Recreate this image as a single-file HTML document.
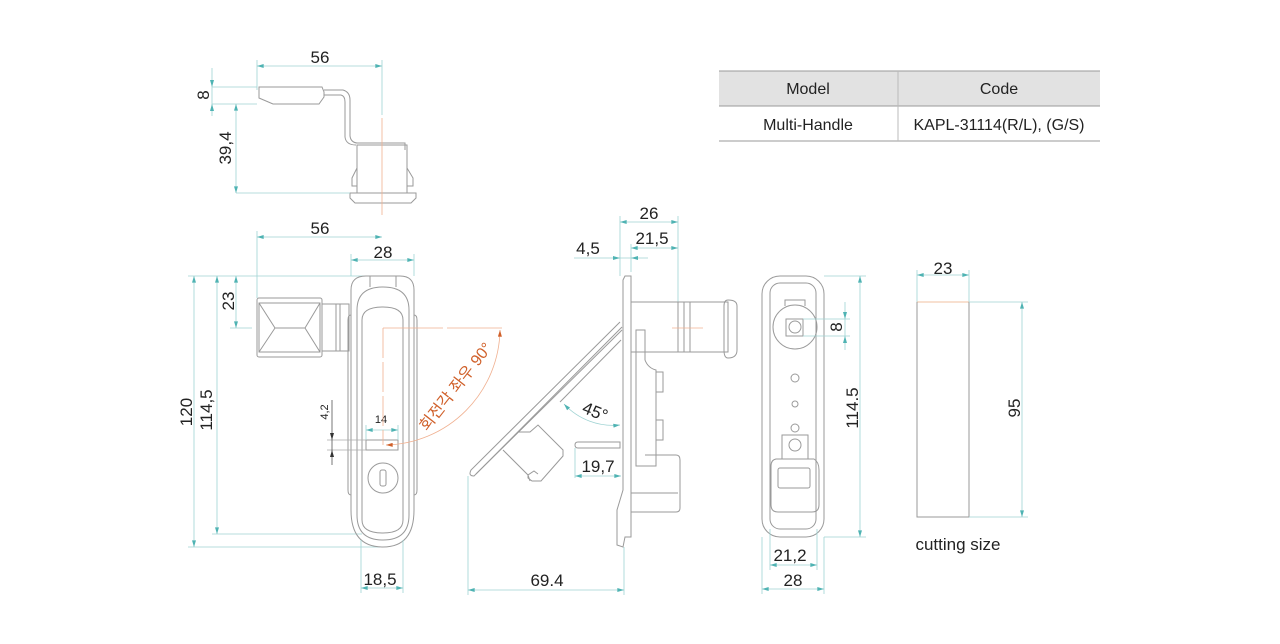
<!DOCTYPE html>
<html><head><meta charset="utf-8"><style>
html,body{margin:0;padding:0;background:#fff;width:1280px;height:644px;overflow:hidden}
svg{display:block}
text{font-family:"Liberation Sans","Noto Sans CJK KR",sans-serif;fill:#222}
.l{fill:none;stroke:#9a9a9a;stroke-width:1}
.d{stroke:#9fd3d3;stroke-width:0.8;fill:none}
.da{stroke:#9fd3d3;stroke-width:0.8;fill:none;marker-start:url(#a);marker-end:url(#a)}
.o{stroke:#f0b090;stroke-width:0.8;fill:none}
</style></head><body>
<svg width="1280" height="644" viewBox="0 0 1280 644">
<defs>
<marker id="a" viewBox="0 0 10 6" refX="10" refY="3" markerWidth="10" markerHeight="5" orient="auto-start-reverse"><path d="M0,0L10,3L0,6z" fill="#4fb3b3"/></marker>
<marker id="ao" viewBox="0 0 10 6" refX="10" refY="3" markerWidth="9" markerHeight="5" orient="auto-start-reverse"><path d="M0,0L10,3L0,6z" fill="#d0602a"/></marker>
</defs>

<!-- table -->
<rect x="719" y="71" width="381" height="35" fill="#e2e2e2"/>
<line x1="719" y1="71" x2="1100" y2="71" stroke="#999"/>
<line x1="719" y1="106" x2="1100" y2="106" stroke="#999"/>
<line x1="719" y1="141" x2="1100" y2="141" stroke="#999"/>
<line x1="898" y1="71" x2="898" y2="141" stroke="#bbb"/>
<text x="808" y="94" font-size="16" text-anchor="middle">Model</text>
<text x="999" y="94" font-size="16" text-anchor="middle">Code</text>
<text x="808" y="130" font-size="16" text-anchor="middle">Multi-Handle</text>
<text x="999" y="130" font-size="16" text-anchor="middle">KAPL-31114(R/L), (G/S)</text>

<!-- TOP VIEW -->
<line class="d" x1="257" y1="60" x2="257" y2="90"/><line class="d" x1="382" y1="60" x2="382" y2="115"/>
<line class="da" x1="257" y1="66" x2="382" y2="66"/>
<text x="320" y="63" font-size="17" text-anchor="middle">56</text>
<path class="l" d="M259,87H322L324,92V97L319,104H273L259,98Z"/>
<path class="l" d="M324,90H343Q350,92 350,100V136Q351,143 358,143H405V150"/>
<path class="l" d="M324,95H341Q345,96 345,102V137Q346,145 356,145"/>
<rect class="l" x="357" y="145" width="50" height="48"/>
<path class="l" d="M357,168L352,178V186H357M407,168L413,178V186H407"/>
<path class="l" d="M350,193H416V198L411,203H355L350,198Z"/>
<line class="o" x1="382" y1="118" x2="382" y2="215"/>
<line class="d" x1="212" y1="87" x2="257" y2="87"/><line class="d" x1="212" y1="104" x2="257" y2="104"/>
<line class="d" x1="236" y1="193" x2="350" y2="193"/>
<line class="d" x1="212" y1="68" x2="212" y2="116"/>
<path d="M210,80L212,87L214,80z M210,111L212,104L214,111z" fill="#4fb3b3"/>
<line class="da" x1="236" y1="104" x2="236" y2="193"/>
<text transform="translate(209,95) rotate(-90)" font-size="17" text-anchor="middle">8</text>
<text transform="translate(231,148) rotate(-90)" font-size="17" text-anchor="middle">39,4</text>

<!-- FRONT VIEW -->
<line class="d" x1="257" y1="231" x2="257" y2="298"/>
<line class="da" x1="257" y1="237" x2="382" y2="237"/>
<text x="320" y="234" font-size="17" text-anchor="middle">56</text>
<line class="d" x1="351" y1="254" x2="351" y2="276"/><line class="d" x1="414" y1="254" x2="414" y2="276"/>
<line class="da" x1="351" y1="260" x2="414" y2="260"/>
<text x="383" y="258" font-size="17" text-anchor="middle">28</text>
<line class="d" x1="188" y1="276" x2="380" y2="276"/>
<line class="d" x1="230" y1="328" x2="252" y2="328"/>
<line class="d" x1="212" y1="534" x2="362" y2="534"/>
<line class="d" x1="188" y1="547" x2="380" y2="547"/>
<line class="da" x1="194" y1="276" x2="194" y2="547"/>
<line class="da" x1="217" y1="276" x2="217" y2="534"/>
<line class="da" x1="236" y1="276" x2="236" y2="328"/>
<text transform="translate(192,412) rotate(-90)" font-size="17" text-anchor="middle">120</text>
<text transform="translate(212,410) rotate(-90)" font-size="17" text-anchor="middle">114,5</text>
<text transform="translate(234,301) rotate(-90)" font-size="17" text-anchor="middle">23</text>
<path class="l" d="M351,290Q351,276 366,276H400Q414,276 414,290V510Q414,547 383,547Q351,547 351,510Z"/>
<path class="l" d="M357,310Q357,287 383,287Q409,287 409,310V515Q409,540 383,540Q357,540 357,515Z"/>
<path class="l" d="M362,320Q362,307 383,307Q403,307 403,320V520Q403,533 383,533Q362,533 362,520Z"/>
<line class="l" x1="370" y1="276" x2="370" y2="287"/><line class="l" x1="396" y1="276" x2="396" y2="287"/>
<path class="l" d="M414,315Q417,315 417,320V490Q417,495 414,495M351,315Q348,315 348,320V490Q348,495 351,495"/>
<rect class="l" x="257" y="298" width="65" height="59" rx="2"/>
<rect class="l" x="259" y="303" width="61" height="49"/>
<path class="l" d="M259,303L275,328H305L320,303M259,352L275,328M320,352L305,328"/>
<rect class="l" x="322" y="304" width="27" height="47"/>
<line class="l" x1="336" y1="304" x2="336" y2="351"/><line class="l" x1="340" y1="304" x2="340" y2="351"/>
<rect class="l" x="366" y="440" width="32" height="10"/>
<circle class="l" cx="383" cy="478" r="15"/>
<rect class="l" x="380" y="470" width="6" height="16" rx="2"/>
<line class="d" x1="366" y1="425" x2="366" y2="440"/><line class="d" x1="398" y1="425" x2="398" y2="440"/>
<line class="da" x1="366" y1="430" x2="398" y2="430"/>
<text x="381" y="423" font-size="11" text-anchor="middle">14</text>
<line x1="327" y1="440" x2="366" y2="440" stroke="#aaa" stroke-width=".8"/>
<line x1="327" y1="450" x2="366" y2="450" stroke="#aaa" stroke-width=".8"/>
<line x1="332" y1="400" x2="332" y2="465" stroke="#555" stroke-width=".8"/>
<path d="M330,433L332,440L334,433z M330,457L332,450L334,457z" fill="#333"/>
<text transform="translate(328,412) rotate(-90)" font-size="11" text-anchor="middle">4,2</text>
<line class="d" x1="361" y1="540" x2="361" y2="593"/><line class="d" x1="403" y1="540" x2="403" y2="593"/>
<line class="da" x1="361" y1="588" x2="403" y2="588"/>
<text x="380" y="585" font-size="17" text-anchor="middle">18,5</text>
<line class="o" x1="383" y1="328" x2="383" y2="445" stroke-dasharray="30 4"/>
<line class="o" x1="383" y1="328" x2="502" y2="328" stroke-dasharray="60 4"/>
<path d="M500,330A117,117 0 0 1 386,445" fill="none" stroke="#f0b090" stroke-width=".8" marker-start="url(#ao)" marker-end="url(#ao)"/>
<text transform="translate(460,390) rotate(-52)" font-size="16" fill="#d0602a" style="fill:#d0602a" text-anchor="middle">회전각 좌우 90°</text>

<!-- SIDE VIEW -->
<line class="d" x1="620" y1="216" x2="620" y2="276"/><line class="d" x1="678" y1="216" x2="678" y2="302"/>
<line class="d" x1="631" y1="244" x2="631" y2="272"/>
<line class="da" x1="620" y1="222" x2="678" y2="222"/>
<line class="da" x1="631" y1="248" x2="678" y2="248"/>
<line class="d" x1="574" y1="258" x2="648" y2="258"/>
<path d="M613,256L620,258L613,260z M638,256L631,258L638,260z" fill="#4fb3b3"/>
<text x="649" y="219" font-size="17" text-anchor="middle">26</text>
<text x="652" y="244" font-size="17" text-anchor="middle">21,5</text>
<text x="588" y="254" font-size="17" text-anchor="middle">4,5</text>
<path class="l" d="M625,276H631V537H625L623,547L617,545L617,510L623,490V280Z"/>
<rect class="l" x="631" y="302" width="47" height="50"/>
<rect class="l" x="678" y="302" width="50" height="50"/>
<line class="l" x1="684" y1="302" x2="684" y2="352"/><line class="l" x1="690" y1="302" x2="690" y2="352"/>
<path class="l" d="M728,300Q737,300 737,306V350Q737,358 728,358Q724,358 724,350V306Q724,300 728,300Z"/>
<line class="o" x1="672" y1="328" x2="703" y2="328"/>
<path class="l" d="M636,330H645V360Q648,368 656,370V466H636Z"/>
<rect class="l" x="656" y="372" width="7" height="20"/><rect class="l" x="656" y="420" width="7" height="20"/>
<path class="l" d="M645,455H676Q680,455 680,460V508Q680,512 676,512H631"/>
<line class="l" x1="631" y1="493" x2="678" y2="493"/>
<!-- diagonal handle -->
<path class="l" d="M620,322L471,470Q468,476 474,476L622,330"/>
<line class="l" x1="476" y1="474" x2="622" y2="327"/>
<line class="l" x1="621" y1="340" x2="560" y2="402"/>
<path class="l" d="M518,432H530L538,425L563,450V456L541,481H532L528,478V475L503,450"/>
<path class="l" d="M530,481L528,475L534,471L538,474"/>
<path class="l" d="M578,442H620V448H578Q575,448 575,445Q575,442 578,442Z"/>
<path d="M564,404A67,67 0 0 0 620,425" fill="none" stroke="#9fd3d3" stroke-width=".8" marker-start="url(#a)" marker-end="url(#a)"/>
<text transform="translate(593,417) rotate(22)" font-size="17" text-anchor="middle">45°</text>
<line class="d" x1="575" y1="448" x2="575" y2="478"/>
<line class="da" x1="575" y1="476" x2="621" y2="476"/>
<text x="598" y="472" font-size="17" text-anchor="middle">19,7</text>
<line class="d" x1="468" y1="476" x2="468" y2="595"/><line class="d" x1="624" y1="547" x2="624" y2="595"/>
<line class="da" x1="468" y1="590" x2="624" y2="590"/>
<text x="547" y="586" font-size="17" text-anchor="middle">69.4</text>

<!-- BACK VIEW -->
<rect class="l" x="762" y="276" width="62" height="261" rx="18"/>
<rect class="l" x="770" y="283" width="46" height="246" rx="10"/>
<circle class="l" cx="795" cy="327" r="22"/>
<path class="l" d="M785,306V300H805V306"/>
<rect class="l" x="786" y="319" width="17" height="17"/>
<circle class="l" cx="795" cy="327" r="6"/>
<circle class="l" cx="795" cy="378" r="4"/><circle class="l" cx="795" cy="404" r="3"/><circle class="l" cx="795" cy="428" r="4"/>
<rect class="l" x="782" y="435" width="26" height="24"/>
<circle class="l" cx="795" cy="445" r="6"/>
<path class="l" d="M776,459H814Q819,462 819,470V505Q819,512 812,512H778Q771,512 771,505V466Q771,460 776,459Z"/>
<rect class="l" x="778" y="468" width="32" height="20" rx="2"/>
<line class="d" x1="803" y1="319" x2="850" y2="319"/><line class="d" x1="803" y1="336" x2="850" y2="336"/>
<line class="d" x1="845" y1="302" x2="845" y2="350"/>
<path d="M843,312L845,319L847,312z M843,343L845,336L847,343z" fill="#4fb3b3"/>
<text transform="translate(842,327) rotate(-90)" font-size="17" text-anchor="middle">8</text>
<line class="d" x1="824" y1="276" x2="866" y2="276"/><line class="d" x1="824" y1="537" x2="866" y2="537"/>
<line class="da" x1="860" y1="276" x2="860" y2="537"/>
<text transform="translate(858,408) rotate(-90)" font-size="17" text-anchor="middle">114.5</text>
<line class="d" x1="770" y1="529" x2="770" y2="570"/><line class="d" x1="817" y1="529" x2="817" y2="570"/>
<line class="d" x1="762" y1="537" x2="762" y2="594"/><line class="d" x1="824" y1="537" x2="824" y2="594"/>
<line class="da" x1="770" y1="565" x2="817" y2="565"/>
<line class="da" x1="762" y1="589" x2="824" y2="589"/>
<text x="790" y="561" font-size="17" text-anchor="middle">21,2</text>
<text x="793" y="586" font-size="17" text-anchor="middle">28</text>

<!-- CUTTING -->
<line class="d" x1="917" y1="270" x2="917" y2="302"/><line class="d" x1="969" y1="270" x2="969" y2="302"/>
<line class="da" x1="917" y1="275" x2="969" y2="275"/>
<text x="943" y="274" font-size="17" text-anchor="middle">23</text>
<line x1="917" y1="302" x2="969" y2="302" stroke="#f0c0a0" stroke-width="1"/>
<path class="l" d="M917,302V517H969V302"/>
<line class="d" x1="969" y1="302" x2="1028" y2="302"/><line class="d" x1="969" y1="517" x2="1028" y2="517"/>
<line class="da" x1="1022" y1="302" x2="1022" y2="517"/>
<text transform="translate(1020,408) rotate(-90)" font-size="17" text-anchor="middle">95</text>
<text x="958" y="550" font-size="17" text-anchor="middle">cutting size</text>
</svg>
</body></html>
